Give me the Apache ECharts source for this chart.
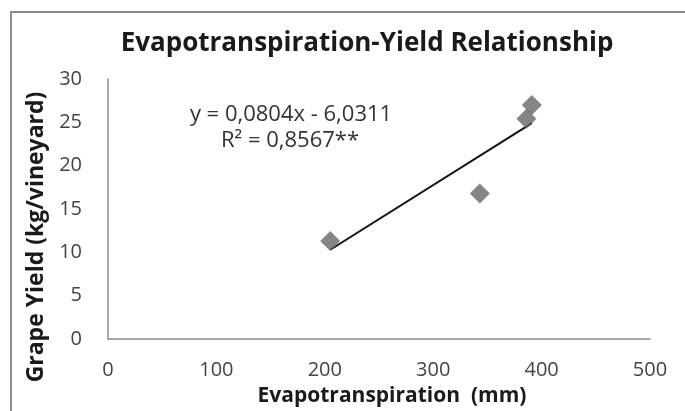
<!DOCTYPE html>
<html>
<head>
<meta charset="utf-8">
<script src="https://cdn.jsdelivr.net/npm/echarts@6/dist/echarts.min.js"></script>
<style>
  html, body { margin: 0; padding: 0; background: #fff; }
  #chart { width: 685px; height: 411px; }
</style>
</head>
<body>
<div id="chart"></div>
<script>
  // measured points (evapotranspiration mm, yield kg/vineyard)
  const etValues = [205, 343, 386, 391];
  const yieldValues = [11.3, 16.8, 25.4, 27.0];
  // trend line ends as drawn in the figure
  const trendX = [205, 391];
  const trendY = [10.3, 24.9];
  const xTicks = [0, 100, 200, 300, 400, 500];
  const yTicks = [0, 5, 10, 15, 20, 25, 30];

  const font = '"Open Sans", sans-serif';
  const myChart = echarts.init(document.getElementById('chart'));

  const option = {
    backgroundColor: '#fff',
    animation: false,
    title: {
      text: 'Evapotranspiration-Yield Relationship',
      left: 362,
      textAlign: 'center',
      top: 26,
      textStyle: { fontFamily: font, fontSize: 26, fontWeight: 'bold', color: '#1a1a1a' }
    },
    grid: { left: 108, right: 35, top: 79, bottom: 72 },
    xAxis: {
      type: 'value',
      min: xTicks[0],
      max: xTicks[xTicks.length - 1],
      interval: 100,
      splitLine: { show: false },
      axisTick: { show: false },
      axisLine: { lineStyle: { color: '#8c8c8c', width: 1.5 } },
      axisLabel: { margin: 21, fontFamily: font, fontSize: 20, color: '#444' }
    },
    yAxis: {
      type: 'value',
      min: yTicks[0],
      max: yTicks[yTicks.length - 1],
      interval: 5,
      splitLine: { show: false },
      axisTick: { show: false },
      axisLine: { show: true, lineStyle: { color: '#8c8c8c', width: 1.5 } },
      axisLabel: { margin: 26, fontFamily: font, fontSize: 20, color: '#444' }
    },
    graphic: [
      {
        type: 'rect',
        shape: { x: 11, y: 12, width: 720, height: 450 },
        style: { fill: 'none', stroke: '#8c8c8c', lineWidth: 2 },
        silent: true
      },
      {
        type: 'text',
        x: 392, y: 396,
        style: {
          text: 'Evapotranspiration  (mm)',
          fontFamily: font, fontSize: 21, fontWeight: 'bold', fill: '#1a1a1a',
          align: 'center', verticalAlign: 'middle'
        }
      },
      {
        type: 'text',
        x: 36, y: 237,
        rotation: Math.PI / 2,
        style: {
          text: 'Grape Yield (kg/vineyard)',
          fontFamily: font, fontSize: 23, fontWeight: 'bold', fill: '#1a1a1a',
          align: 'center', verticalAlign: 'middle'
        }
      },
      {
        type: 'text',
        x: 291, y: 115,
        style: {
          text: 'y = 0,0804x - 6,0311',
          fontFamily: font, fontSize: 22, fill: '#333',
          align: 'center', verticalAlign: 'middle'
        }
      },
      {
        type: 'text',
        x: 290, y: 141,
        style: {
          text: 'R² = 0,8567**',
          fontFamily: font, fontSize: 22, fill: '#333',
          align: 'center', verticalAlign: 'middle'
        }
      }
    ],
    series: [
      {
        name: 'Trend',
        type: 'line',
        data: trendX.map((x, i) => [x, trendY[i]]),
        showSymbol: false,
        lineStyle: { color: '#111', width: 2 },
        z: 2
      },
      {
        name: 'Yield',
        type: 'scatter',
        data: etValues.map((x, i) => [x, yieldValues[i]]),
        symbol: 'diamond',
        symbolSize: 20,
        itemStyle: { color: '#666' },
        z: 3
      }
    ]
  };
  myChart.setOption(option);
</script>
</body>
</html>
